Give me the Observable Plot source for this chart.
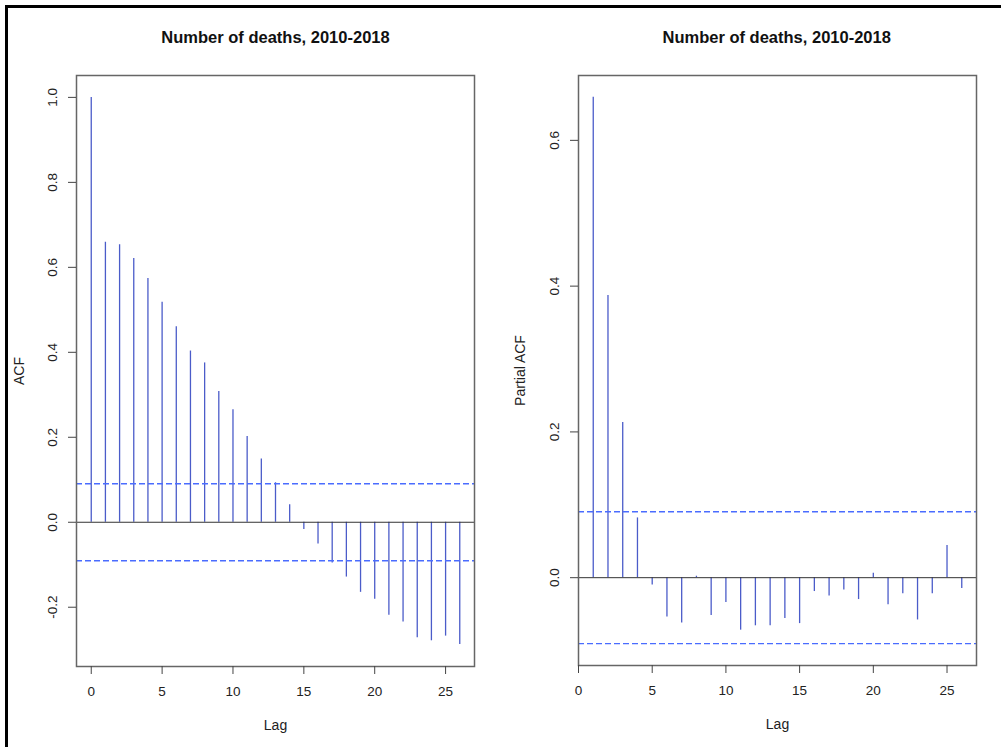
<!DOCTYPE html>
<html>
<head>
<meta charset="utf-8">
<script src="https://cdn.jsdelivr.net/npm/d3@7"></script>
<script src="https://cdn.jsdelivr.net/npm/@observablehq/plot@0.6"></script>
<style>
  html, body { margin: 0; padding: 0; background: #fff; }
  #wrap { position: relative; width: 1001px; height: 747px; overflow: hidden; background: #fff;
          font-family: "Liberation Sans", Arial, Helvetica, sans-serif; }
  #border { position: absolute; left: 5px; top: 5px; width: 1100px; height: 900px;
            border-top: 3px solid #000; border-left: 3px solid #000; box-sizing: border-box; }
  .title { position: absolute; top: 27px; width: 400px; text-align: center; font-weight: bold;
           font-size: 16.5px; color: #111; line-height: 20px; white-space: nowrap; }
  .panel { position: absolute; top: 0; }
</style>
</head>
<body>
<div id="wrap">
  <div id="border"></div>
  <div class="title" id="t1"></div>
  <div class="title" id="t2"></div>
  <div class="panel" id="p1" style="left:0px"></div>
  <div class="panel" id="p2" style="left:500px"></div>
</div>
<script>
// ---- data ----
const chartTitle = "Number of deaths, 2010-2018";
const acfLags = [0,1,2,3,4,5,6,7,8,9,10,11,12,13,14,15,16,17,18,19,20,21,22,23,24,25,26];
const acfValues = [1.0, 0.659, 0.653, 0.621, 0.574, 0.518, 0.460, 0.403, 0.375, 0.308, 0.265, 0.202,
  0.149, 0.093, 0.041, -0.017, -0.051, -0.096, -0.129, -0.165, -0.181, -0.219, -0.235, -0.272,
  -0.279, -0.268, -0.288];
const pacfLags = [1,2,3,4,5,6,7,8,9,10,11,12,13,14,15,16,17,18,19,20,21,22,23,24,25,26];
const pacfValues = [0.659, 0.387, 0.213, 0.082, -0.010, -0.054, -0.062, 0.002, -0.052, -0.034,
  -0.072, -0.066, -0.066, -0.056, -0.063, -0.019, -0.025, -0.017, -0.030, 0.006, -0.037, -0.022,
  -0.058, -0.022, 0.044, -0.015];
const ciBound = 0.0905;
const xTicks = [0, 5, 10, 15, 20, 25];
const acfYTicks = [-0.2, 0.0, 0.2, 0.4, 0.6, 0.8, 1.0];
const pacfYTicks = [0.0, 0.2, 0.4, 0.6];
const xLabel = "Lag";
const acfYLabel = "ACF";
const pacfYLabel = "Partial ACF";

// ---- helpers ----
function padded(ext) { const r = ext[1] - ext[0]; return [ext[0] - 0.04 * r, ext[1] + 0.04 * r]; }
const fmt = d => d.toFixed(1);
const barColor = "#4b5cc9";
const ciColor = "#4a6cff";
const fontFamily = '"Liberation Sans", Arial, Helvetica, sans-serif';

function panel({lags, values, yTicks, yLabel, width, marginLeft, marginRight, marginBottom, labelDx}) {
  const data = lags.map((l, i) => ({lag: l, v: values[i]}));
  const xDom = padded(d3.extent(lags));
  const yDom = padded(d3.extent([...values, ciBound, -ciBound]));
  return Plot.plot({
    width, height: 747,
    marginLeft, marginRight, marginTop: 75, marginBottom,
    style: {fontFamily, fontSize: "13px", color: "#222", background: "transparent", overflow: "visible"},
    x: {domain: xDom, axis: null},
    y: {domain: yDom, axis: null},
    marks: [
      Plot.ruleX(data, {x: "lag", y1: 0, y2: "v", stroke: barColor, strokeWidth: 1.3}),
      Plot.ruleY([0], {stroke: "#333", strokeWidth: 1}),
      Plot.ruleY([ciBound, -ciBound], {stroke: ciColor, strokeWidth: 1.4, strokeDasharray: "6,3"}),
      Plot.frame({stroke: "#666", strokeWidth: 1.5}),
      Plot.axisX({ticks: xTicks, tickSize: 8, tickPadding: 12, fontSize: 13.5, label: null, stroke: "#444",
                  tickFormat: d => String(d)}),
      Plot.axisY({ticks: yTicks, tickSize: 8, tickFormat: () => "", label: null, stroke: "#444"}),
      Plot.text(yTicks, {y: d => d, text: fmt, frameAnchor: "left", dx: -24, rotate: -90,
                         textAnchor: "middle", lineAnchor: "middle", fontSize: 13.5, fill: "#222"}),
      Plot.text([xLabel], {frameAnchor: "bottom", dy: 59, lineAnchor: "middle", fontSize: 14, fill: "#222"}),
      Plot.text([yLabel], {frameAnchor: "left", dx: labelDx, rotate: -90, textAnchor: "middle",
                           lineAnchor: "middle", fontSize: 14, fill: "#222"})
    ]
  });
}

document.getElementById("p1").append(panel({
  lags: acfLags, values: acfValues, yTicks: acfYTicks, yLabel: acfYLabel,
  width: 500, marginLeft: 76, marginRight: 26, marginBottom: 81, labelDx: -57
}));
document.getElementById("p2").append(panel({
  lags: pacfLags, values: pacfValues, yTicks: pacfYTicks, yLabel: pacfYLabel,
  width: 501, marginLeft: 78, marginRight: 25, marginBottom: 82, labelDx: -58
}));

const t1 = document.getElementById("t1");
t1.textContent = chartTitle; t1.style.left = (275.5 - 200) + "px";
const t2 = document.getElementById("t2");
t2.textContent = chartTitle; t2.style.left = (776.7 - 200) + "px";
</script>
</body>
</html>
